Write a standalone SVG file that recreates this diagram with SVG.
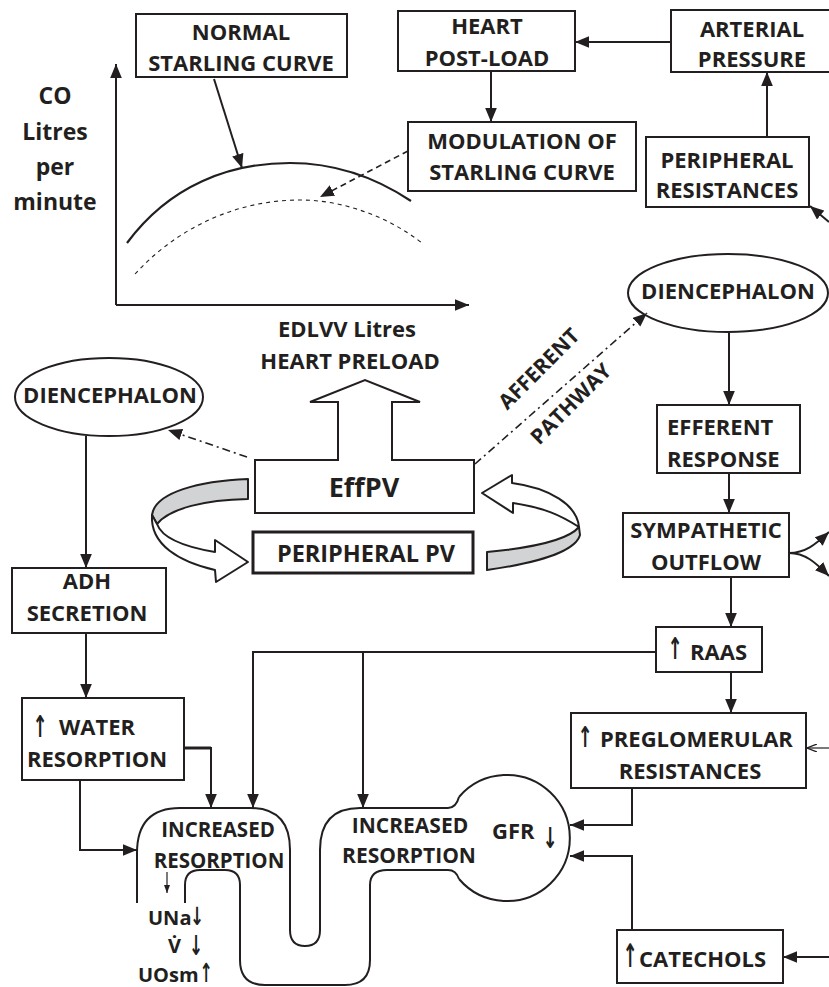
<svg xmlns="http://www.w3.org/2000/svg" width="829" height="987" viewBox="0 0 829 987">
<defs>
<style>
text{font-family:"Open Sans","Liberation Sans",sans-serif;font-weight:bold;font-size:22px;fill:#231f20}
.m{text-anchor:middle}
.arr{font-family:"DejaVu Sans",sans-serif;font-weight:bold;font-size:24px;text-anchor:middle}
.s20{font-size:20px}
.s21{font-size:21px}
.box{fill:#fff;stroke:#231f20;stroke-width:2}
.ln{fill:none;stroke:#231f20;stroke-width:2}
.thin{fill:none;stroke:#231f20;stroke-width:1.2}
.dd{fill:none;stroke:#231f20;stroke-width:1.6;stroke-dasharray:8 4 2 4}
.ribbon{fill:#fff;stroke:#231f20;stroke-width:2;stroke-linejoin:round}
.gray{fill:#d2d3d4;stroke:#231f20;stroke-width:2;stroke-linejoin:round}
</style>
<marker id="ah" viewBox="0 0 12 10" refX="12" refY="5" markerWidth="14" markerHeight="12" orient="auto" markerUnits="userSpaceOnUse"><path d="M0,0 L12,5 L0,10 Z" fill="#231f20"/></marker>
<marker id="ahs" viewBox="0 0 8 6" refX="8" refY="3" markerWidth="8" markerHeight="6" orient="auto" markerUnits="userSpaceOnUse"><path d="M0,0 L8,3 L0,6 Z" fill="#231f20"/></marker>
<marker id="aho" viewBox="0 0 10 8" refX="10" refY="4" markerWidth="10" markerHeight="8" orient="auto" markerUnits="userSpaceOnUse"><path d="M0,0 L10,4 L0,8" fill="none" stroke="#231f20" stroke-width="1.3"/></marker>
</defs>
<rect width="829" height="987" fill="#fff"/>

<g id="graph">
<path class="ln" d="M116,305 V64" marker-end="url(#ah)"/>
<path class="ln" d="M116,305 H469" marker-end="url(#ah)"/>
<path fill="none" stroke="#231f20" stroke-width="2.2" d="M127,243 C170,185 230,163 290,163 C335,163 375,177 411,201"/>
<path fill="none" stroke="#231f20" stroke-width="1.1" stroke-dasharray="4 4" d="M135,274 C180,225 240,200 300,200 C345,200 390,218 422,243"/>
<text class="m" x="55" y="104" style="font-size:23px">CO</text>
<text class="m" x="55" y="140" style="font-size:23px">Litres</text>
<text class="m" x="55" y="175" style="font-size:23px">per</text>
<text class="m" x="55" y="210" style="font-size:23px">minute</text>
<text class="m" x="347" y="337">EDLVV Litres</text>
<text class="m" x="350" y="369">HEART PRELOAD</text>
</g>

<g id="normal-starling">
<rect class="box" x="136" y="14" width="211" height="63"/>
<text class="m" x="241" y="40">NORMAL</text>
<text class="m" x="241" y="71">STARLING CURVE</text>
</g>
<g id="heart-postload">
<rect class="box" x="398" y="11" width="177" height="60"/>
<text class="m" x="487" y="34">HEART</text>
<text class="m" x="487" y="66">POST-LOAD</text>
</g>
<g id="arterial-pressure">
<rect class="box" x="671" y="10" width="162" height="62"/>
<text class="m" x="752" y="37">ARTERIAL</text>
<text class="m" x="752" y="67">PRESSURE</text>
</g>
<g id="modulation">
<rect class="box" x="408" y="122" width="228" height="69"/>
<text class="m" x="522" y="149">MODULATION OF</text>
<text class="m" x="522" y="180">STARLING CURVE</text>
</g>
<g id="peripheral-resistances">
<rect class="box" x="646" y="137" width="163" height="70"/>
<text class="m" x="727" y="168">PERIPHERAL</text>
<text class="m" x="727" y="198">RESISTANCES</text>
</g>
<g id="diencephalon-right">
<ellipse class="box" cx="728" cy="293" rx="100" ry="39"/>
<text class="m" x="728" y="299">DIENCEPHALON</text>
</g>
<g id="diencephalon-left">
<ellipse class="box" cx="109" cy="397" rx="94" ry="39"/>
<text class="m" x="110" y="403">DIENCEPHALON</text>
</g>
<g id="effpv">
<path class="box" d="M338,460 H255 V513 H474 V460 H392"/>
<path class="ln" d="M338,461 V402 H310 L365,380 L420,402 H392 V461"/>
<text class="m" x="364" y="497" style="font-size:27px">EffPV</text>
</g>
<g id="peripheral-pv">
<rect class="box" x="253" y="532" width="220" height="41" style="stroke-width:3"/>
<text class="m" x="366" y="562" style="font-size:23.5px">PERIPHERAL PV</text>
</g>
<g id="ribbon-left">
<path class="gray" d="M248,479 C200,481 155,492 152,515 L157,524 C170,508 205,500 248,499 Z"/>
<path class="ribbon" d="M152,515 C150,545 180,562 215,570 L216,582 L248,562 L215,540 L215,552 C185,547 162,538 157,524 Z"/>
</g>
<g id="ribbon-right">
<path class="ribbon" d="M482,493 L512,475 L512,483 C550,488 577,505 579,527 C560,515 545,508 513,503 L513,513 Z"/>
<path class="gray" d="M487,552 C530,548 568,540 579,527 L580,535 C575,553 530,564 487,570 Z"/>
</g>
<g id="efferent-response">
<rect class="box" x="657" y="405" width="143" height="68"/>
<text x="667" y="435">EFFERENT</text>
<text x="667" y="467">RESPONSE</text>
</g>
<g id="sympathetic-outflow">
<rect class="box" x="623" y="513" width="166" height="64"/>
<text class="m" x="706" y="538">SYMPATHETIC</text>
<text class="m" x="706" y="570">OUTFLOW</text>
</g>
<g id="raas">
<rect class="box" x="656" y="627" width="106" height="45"/>
<text class="arr" transform="translate(675,659) scale(0.75,1.25)">↑</text>
<text x="690" y="660">RAAS</text>
</g>
<g id="preglomerular">
<rect class="box" x="571" y="713" width="235" height="75"/>
<text class="arr" transform="translate(585,747) scale(0.75,1.2)">↑</text>
<text x="600" y="747">PREGLOMERULAR</text>
<text class="m" x="690" y="779">RESISTANCES</text>
</g>
<g id="catechols">
<rect class="box" x="617" y="930" width="166" height="53"/>
<text class="arr" transform="translate(630,967) scale(0.75,1.35)">↑</text>
<text x="639" y="967">CATECHOLS</text>
</g>
<g id="adh">
<rect class="box" x="12" y="568" width="154" height="65"/>
<text class="m" x="87" y="589">ADH</text>
<text class="m" x="87" y="621">SECRETION</text>
</g>
<g id="water-resorption">
<rect class="box" x="22" y="698" width="162" height="82"/>
<text class="arr" transform="translate(40,737) scale(0.75,1.25)">↑</text>
<text x="59" y="735">WATER</text>
<text class="m" x="97" y="767">RESORPTION</text>
</g>
<g id="nephron">
<path class="ln" d="M137,903 V853 Q137,808 180,808 H250 Q290,808 290,850 V930 Q290,946 305,946 Q320,946 320,930 V850 Q320,808 360,808 H448 Q456,808 459,797"/>
<path class="ln" d="M185,903 V885 Q185,870 200,870 H225 Q240,870 240,885 V960 Q240,985 265,985 H345 Q370,985 370,960 V885 Q370,870 387,870 H448 Q456,870 459,879"/>
<path class="ln" d="M459,797 A63,63 0 1 1 459,879"/>
<text class="m" x="218" y="837" style="font-size:20.5px">INCREASED</text>
<text class="m" x="219" y="868" style="font-size:20.5px">RESORPTION</text>
<text class="m s21" x="410" y="833">INCREASED</text>
<text class="m s21" x="409" y="863">RESORPTION</text>
<text x="492" y="839">GFR</text>
<text class="arr" transform="translate(550,848) scale(0.75,1.2)">↓</text>
<text x="148" y="925" class="s20">UNa</text>
<text class="arr" transform="translate(197,925) scale(0.7,1.05)">↓</text>
<text x="168" y="953" class="s20">V̇</text>
<text class="arr" transform="translate(196,955) scale(0.7,1.15)">↓</text>
<text x="138" y="982" class="s20">UOsm</text>
<text class="arr" transform="translate(206,982) scale(0.65,1.1)">↑</text>
</g>
<g id="pathway-labels">
<text class="m s21" x="544" y="374" transform="rotate(-45 544 374)">AFFERENT</text>
<text class="m s21" x="576" y="409" transform="rotate(-45 576 409)">PATHWAY</text>
</g>

<g id="connectors">
<path class="ln" d="M214,79 L242,168" marker-end="url(#ah)"/>
<path fill="none" stroke="#231f20" stroke-width="1.6" stroke-dasharray="6 4" d="M408,151 L320,197" marker-end="url(#ah)"/>
<path class="ln" d="M671,42 H575" marker-end="url(#ah)"/>
<path class="ln" d="M491,71 V122" marker-end="url(#ah)"/>
<path class="ln" d="M767,137 V72" marker-end="url(#ah)"/>
<path class="ln" d="M829,222 L810,206" marker-end="url(#ah)"/>
<path class="dd" d="M247,457 L168,430" marker-end="url(#ah)"/>
<path class="dd" d="M475,464 L647,313" marker-end="url(#ah)"/>
<path class="ln" d="M729,333 V405" marker-end="url(#ah)"/>
<path class="ln" d="M729,473 V513" marker-end="url(#ah)"/>
<path class="ln" d="M789,553 C805,553 815,545 829,532" marker-end="url(#ah)"/>
<path class="ln" d="M789,553 C805,553 815,562 829,576" marker-end="url(#ah)"/>
<path class="ln" d="M731,577 V627" marker-end="url(#ah)"/>
<path class="ln" d="M731,672 V713" marker-end="url(#ah)"/>
<path class="ln" d="M656,652 H253 V808" marker-end="url(#ah)"/>
<path class="ln" d="M363,652 V808" marker-end="url(#ah)"/>
<path class="thin" d="M829,748 H807" marker-end="url(#aho)"/>
<path class="ln" d="M632,788 V825 H570" marker-end="url(#ah)"/>
<path class="ln" d="M632,930 V856 H570" marker-end="url(#ah)"/>
<path class="ln" d="M829,957 H783" marker-end="url(#ah)"/>
<path class="ln" d="M86,436 V568" marker-end="url(#ah)"/>
<path class="ln" d="M86,633 V698" marker-end="url(#ah)"/>
<path fill="none" stroke="#231f20" stroke-width="3" d="M184,748 H211"/>
<path class="ln" d="M211,747 V808" marker-end="url(#ah)"/>
<path class="ln" d="M80,780 V850 H137" marker-end="url(#ah)"/>
<path class="thin" d="M167,872 V893" marker-end="url(#ahs)"/>
</g>
</svg>
